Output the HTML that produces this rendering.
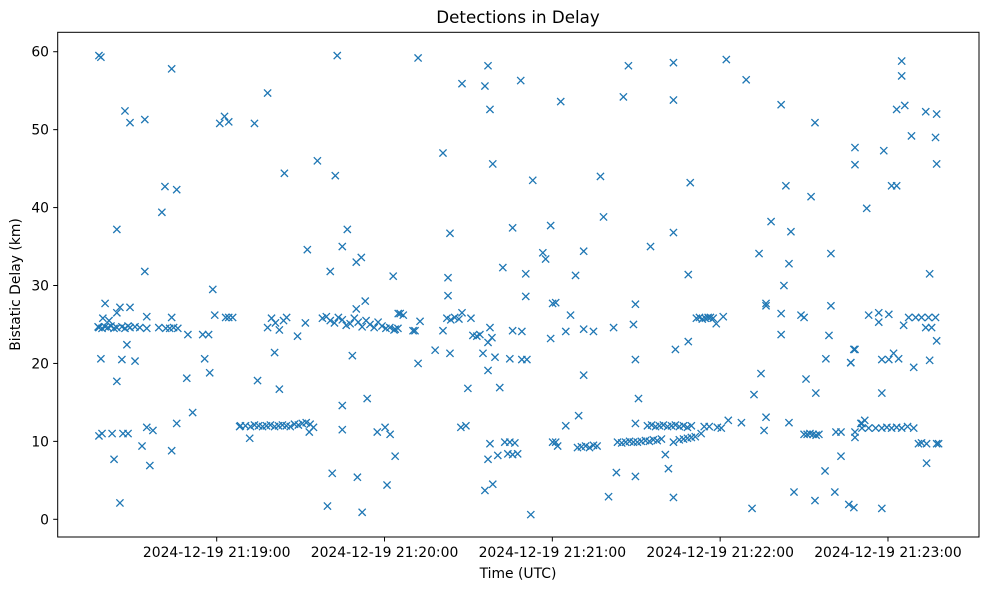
<!DOCTYPE html>
<html><head><meta charset="utf-8"><style>
html,body{margin:0;padding:0;background:#fff;}
svg{display:block;font-family:"DejaVu Sans","Liberation Sans",sans-serif;}
</style></head><body>
<svg id="chart" width="989" height="590" viewBox="0 0 989 590">
<rect x="0" y="0" width="989" height="590" fill="#fff"/>
<text x="518" y="23" text-anchor="middle" font-size="16.7">Detections in Delay</text>
<g id="marks"></g>
<g id="yticks"></g>
<g id="xticks"></g>
<rect x="57.7" y="32.3" width="921.3" height="504.7" fill="none" stroke="#000" stroke-width="1"/>
<text x="518" y="578" text-anchor="middle" font-size="13.9">Time (UTC)</text>
<text transform="translate(20,284.5) rotate(-90)" text-anchor="middle" font-size="13.9">Bistatic Delay (km)</text>
</svg>
<script>
// seconds since 21:17:55 (UTC), and bistatic delay in km
const times = [
22.9,23.6,22.9,24.0,22.6,23.6,25.1,24.3,26.5,28.3,29.3,29.3,30.4,29.3,30.4,31.1,32.2,27.6,31.5,33.3,32.9,34.0,34.0,35.8,38.3,39.3,39.3,40.0,40.0,41.1,42.2,44.3,45.4,46.5,48.9,48.9,48.9,50.7,50.7,54.7,54.3,56.4,60.0,60.7,62.1,62.5,63.6,64.3,66.1,67.8,69.3,68.2,69.3,70.7,73.2,
22.9,24.0,25.1,26.1,27.2,28.3,29.3,31.1,32.2,33.3,34.0,35.8,37.5,40.0,46.8,48.2,49.6,51.1,
108.1,83.2,78.5,101.0,89.2,107.4,111.7,97.4,109.9,114.9,116.7,105.6,128.1,93.9,85.7,79.6,87.4,76.8,98.1,109.9,109.9,118.8,122.4,125.2,127.0,128.8,106.3,115.3,125.9,104.6,117.0,114.9,118.1,113.5,129.9,96.7,
83.2,84.6,86.0,87.4,88.9,90.0,
73.5,75.3,77.1,78.5,80.0,81.4,82.8,84.2,85.7,87.1,88.5,89.9,91.3,92.8,94.2,95.6,97.0,98.4,99.6,
102.8,104.2,105.6,107.1,108.5,109.9,111.3,112.7,114.2,115.6,117.0,118.4,119.8,121.3,122.7,124.1,125.5,126.9,128.4,129.8,
137.0,162.0,152.7,160.9,173.7,162.7,145.9,163.7,178.0,148.4,170.8,184.4,181.6,182.6,167.3,175.5,147.7,147.7,175.5,185.1,130.6,131.7,137.7,128.8,135.2,135.9,145.9,152.7,155.9,162.7,163.4,162.0,170.8,174.1,184.4,143.1,148.4,160.2,164.5,169.8,174.1,175.9,137.0,162.0,154.8,166.2,152.3,154.1,162.7,162.0,165.5,185.1,160.9,163.7,177.3,
147.3,148.7,150.1,151.6,156.6,158.0,159.1,168.0,169.8,171.6,169.1,170.8,172.6,
212.2,228.3,188.0,210.4,228.3,202.2,234.3,203.3,228.3,196.2,220.1,193.3,233.6,186.2,214.7,191.5,189.8,196.2,199.7,206.9,214.0,229.0,233.6,214.7,196.2,215.8,194.4,189.8,214.7,186.2,186.9,225.4,228.3,238.2,207.9,214.7,226.5,205.1,228.3,
236.5,237.6,238.6,239.7,240.7,219.0,220.5,221.9,223.3,224.7,226.2,227.6,229.0,230.4,231.9,233.3,234.7,208.3,209.8,211.2,212.6,214.0,215.4,216.8,218.3,219.7,221.1,222.5,224.0,194.0,195.4,196.9,198.3,199.7,201.0,230.4,231.9,233.3,234.7,236.1,239.3,241.1,
247.2,254.3,266.8,278.9,293.2,293.2,268.5,277.5,263.2,270.3,258.9,284.6,269.6,267.8,261.4,261.4,284.6,266.8,273.9,275.0,243.6,246.1,266.8,283.9,293.2,282.8,291.7,259.6,275.7,257.1,279.2,244.0,245.4,247.9,252.6,261.4,260.7,269.6,286.4,288.2,293.2,293.2,295.3,288.2,282.5,271.4,278.9,286.0,291.0,256.4,
275.0,276.1,277.1,278.2,279.3,280.3,241.5,242.5,
309.9,309.9,308.1,311.0,318.5,322.4,313.4,322.0,303.5,322.4,306.3,308.1,297.4,319.9,298.1,301.7,301.7,305.3,310.6,312.4,314.9,317.0,319.5,322.0,318.5,320.6,322.4,292.8,291.7,302.8,305.3,307.0,308.8,314.2,319.9,302.8,295.7,296.7,295.7,298.1,300.6,302.8,304.6,306.3,308.1,309.9,312.0,314.2,315.9,317.0,318.8,322.4,323.1,318.8,302.8,292.8
];
const delays = [
59.5,59.3,10.7,11.0,24.7,20.6,27.7,25.8,25.5,7.7,17.7,37.2,27.2,26.5,2.1,20.5,52.4,11.0,11.0,11.0,22.4,50.9,27.2,20.3,9.4,31.8,51.3,11.8,26.0,6.9,11.4,24.6,39.4,42.7,57.8,25.9,8.8,42.3,12.3,23.7,18.1,13.7,23.7,20.6,23.7,18.8,29.5,26.2,50.8,51.7,51.0,25.9,25.9,25.9,11.9,
24.6,24.5,24.7,24.6,24.8,24.5,24.6,24.7,24.5,24.8,24.6,24.7,24.6,24.5,24.5,24.5,24.6,24.5,
59.5,54.7,50.8,46.0,44.4,44.1,37.2,34.6,35.0,33.0,33.6,31.8,31.2,23.5,21.4,17.8,16.7,10.4,11.2,14.6,11.5,15.5,11.2,11.8,10.9,8.1,5.9,5.4,4.4,1.7,0.9,27.0,28.0,21.0,26.4,25.2,
24.6,25.8,25.2,24.3,25.5,25.9,
12.0,12.0,11.9,12.1,12.0,11.9,12.0,12.1,11.9,12.0,12.1,12.0,11.9,12.2,12.1,12.3,12.4,12.2,11.8,
25.8,26.0,25.5,25.2,25.9,25.6,24.9,25.1,25.8,25.3,24.7,25.5,25.0,24.6,25.3,24.8,24.5,24.6,24.3,24.5,
59.2,58.2,55.9,55.6,56.3,52.6,47.0,45.6,43.5,36.7,37.4,37.7,34.2,33.4,32.3,31.5,31.0,28.7,28.6,27.7,26.4,26.2,25.4,24.4,24.2,24.2,24.2,26.5,25.8,24.6,23.3,22.7,24.2,24.1,23.2,21.7,21.3,21.3,20.8,20.6,20.5,20.5,20.0,19.1,16.8,16.9,11.8,12.0,9.7,7.7,8.2,9.9,3.7,4.5,0.6,
25.8,25.6,25.9,25.7,23.6,23.5,23.7,9.9,9.9,9.8,8.4,8.3,8.4,
58.2,58.6,53.6,54.2,53.8,44.0,43.2,38.8,36.8,34.4,35.0,31.3,31.4,27.8,27.6,26.2,24.1,24.4,24.1,24.6,25.0,21.8,22.8,20.5,18.5,15.5,13.3,12.0,12.3,9.9,9.4,8.3,9.9,11.0,6.0,5.5,6.5,2.9,2.8,
25.8,25.9,25.7,25.8,25.9,12.0,12.1,11.9,12.0,12.1,11.9,12.0,12.1,11.9,12.0,11.8,12.0,9.9,9.8,9.9,10.0,9.9,9.9,10.0,10.1,10.0,10.2,10.1,10.3,9.2,9.3,9.4,9.2,9.5,9.4,10.2,10.3,10.4,10.5,10.6,11.9,11.9,
59.0,56.4,53.2,50.9,47.7,45.5,42.8,41.4,38.2,36.9,34.1,34.1,32.8,30.0,27.7,27.4,27.4,26.4,26.2,25.9,25.1,26.0,23.7,23.6,21.8,20.6,20.1,18.7,18.0,16.0,16.2,11.8,11.7,12.7,12.4,13.1,11.4,12.4,11.2,11.2,11.2,10.5,12.3,8.1,6.2,3.5,2.4,3.5,1.9,1.4,
10.9,10.9,11.0,10.9,10.8,10.9,25.9,25.8,
58.8,56.9,52.6,53.1,52.3,52.0,49.2,49.0,47.3,45.6,42.8,42.8,39.9,31.5,26.2,26.5,25.3,26.3,24.9,25.9,25.9,25.9,25.9,25.9,24.6,24.6,22.9,21.8,20.1,20.5,20.5,21.3,20.6,19.5,20.4,16.2,12.3,12.7,11.7,11.7,11.7,11.7,11.8,11.7,11.8,11.7,11.9,11.7,9.7,9.8,9.7,9.7,9.7,7.2,1.4,1.5
];
const yTickValues = [0,10,20,30,40,50,60];
const xTickSeconds = [65,125,185,245,305];
const xTickLabels = ["2024-12-19 21:19:00","2024-12-19 21:20:00","2024-12-19 21:21:00","2024-12-19 21:22:00","2024-12-19 21:23:00"];

const NS = "http://www.w3.org/2000/svg";
function xScale(s){ return 216.7 + (s - 65) * 2.797; }
function yScale(v){ return 519.3 - v * 7.793; }

const marks = document.getElementById('marks');
const n = Math.min(times.length, delays.length);
for (let i = 0; i < n; i++) {
  const cx = xScale(times[i]), cy = yScale(delays[i]), r = 3.6;
  const p = document.createElementNS(NS, 'path');
  p.setAttribute('d', `M${cx-r},${cy-r}L${cx+r},${cy+r}M${cx-r},${cy+r}L${cx+r},${cy-r}`);
  p.setAttribute('stroke', '#1f77b4');
  p.setAttribute('stroke-width', '1.3');
  p.setAttribute('fill', 'none');
  
  
  marks.appendChild(p);
}

const yt = document.getElementById('yticks');
yTickValues.forEach(v => {
  const y = yScale(v);
  const l = document.createElementNS(NS, 'line');
  l.setAttribute('x1', 53.2); l.setAttribute('x2', 57.7);
  l.setAttribute('y1', y); l.setAttribute('y2', y);
  l.setAttribute('stroke', '#000'); l.setAttribute('stroke-width', '1');
  
  
  yt.appendChild(l);
  const t = document.createElementNS(NS, 'text');
  t.setAttribute('x', 49); t.setAttribute('y', y + 5);
  t.setAttribute('text-anchor', 'end'); t.setAttribute('font-size', '13.9');
  t.textContent = String(v);
  
  
  yt.appendChild(t);
});

const xt = document.getElementById('xticks');
xTickSeconds.forEach((s, i) => {
  const x = xScale(s);
  const l = document.createElementNS(NS, 'line');
  l.setAttribute('x1', x); l.setAttribute('x2', x);
  l.setAttribute('y1', 537); l.setAttribute('y2', 541.5);
  l.setAttribute('stroke', '#000'); l.setAttribute('stroke-width', '1');
  
  
  xt.appendChild(l);
  const t = document.createElementNS(NS, 'text');
  t.setAttribute('x', x); t.setAttribute('y', 557);
  t.setAttribute('text-anchor', 'middle'); t.setAttribute('font-size', '13.9');
  t.textContent = xTickLabels[i];
  
  
  xt.appendChild(t);
});
</script>
</body></html>
